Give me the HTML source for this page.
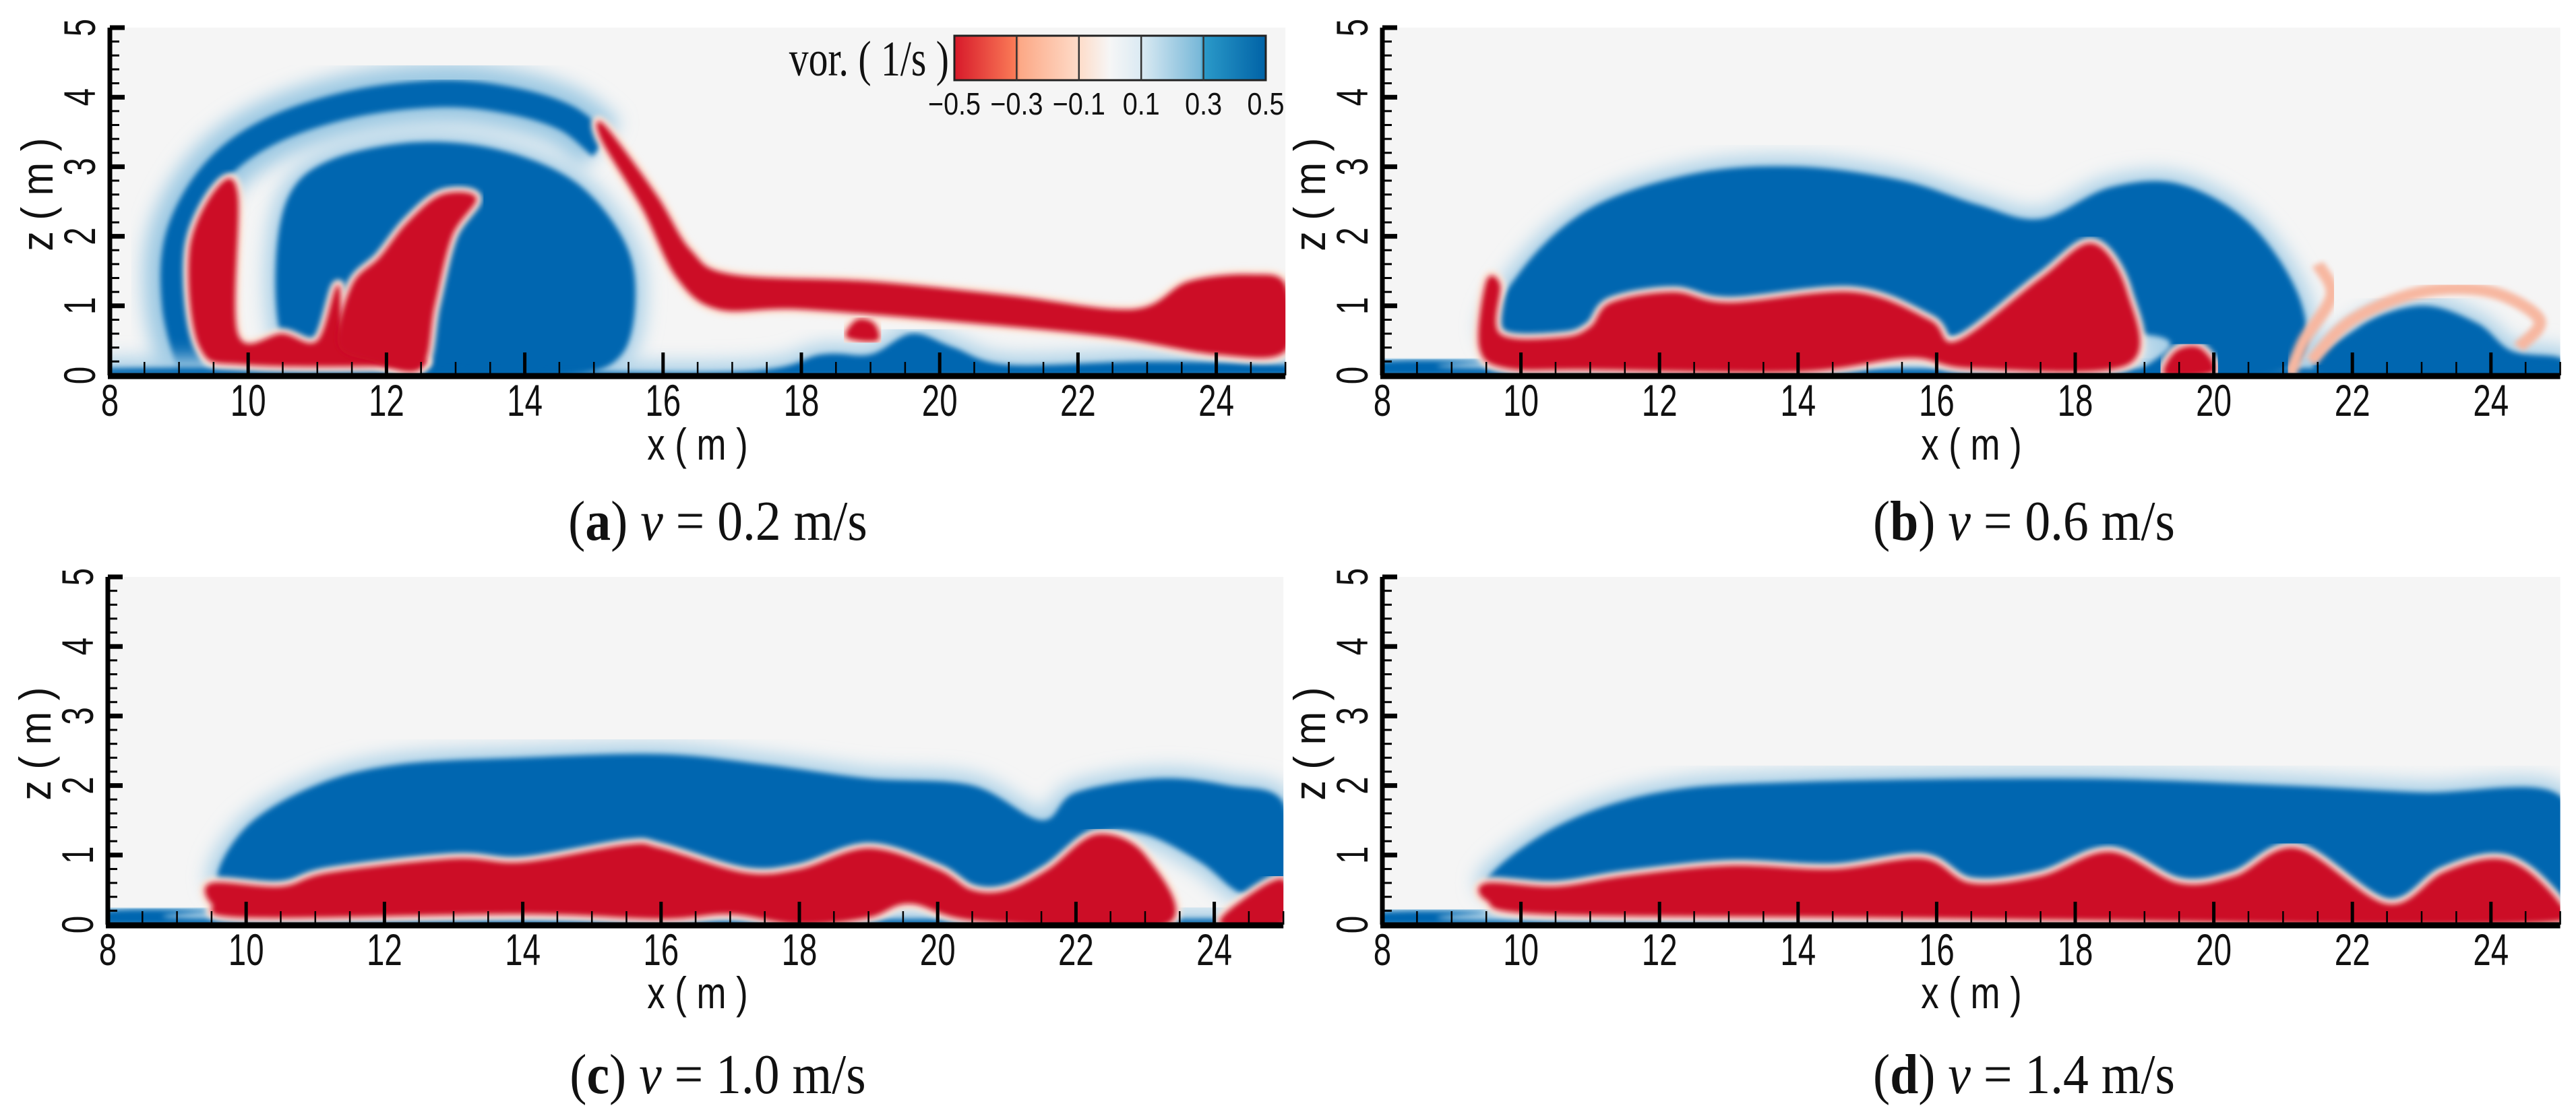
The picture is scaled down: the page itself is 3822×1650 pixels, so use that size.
<!DOCTYPE html>
<html><head><meta charset="utf-8">
<style>
html,body{margin:0;padding:0;background:#fff;}
svg{display:block;}
.tk{font-family:"Liberation Sans",sans-serif;font-size:66px;fill:#111;}
.cap{font-family:"Liberation Serif",serif;font-size:84px;fill:#111;}
</style></head>
<body>
<svg id="fig" width="3822" height="1650" viewBox="0 0 3822 1650" xmlns="http://www.w3.org/2000/svg">
<defs>
<filter id="soft" x="-5%" y="-5%" width="110%" height="110%"><feGaussianBlur stdDeviation="4"/></filter>
<filter id="halo" x="-10%" y="-10%" width="120%" height="120%"><feGaussianBlur stdDeviation="14"/></filter>
<linearGradient id="cb" x1="0" x2="1" y1="0" y2="0">
<stop offset="0" stop-color="#d7192a"/><stop offset="0.2" stop-color="#fb7d58"/>
<stop offset="0.21" stop-color="#fca886"/><stop offset="0.4" stop-color="#fedcc9"/>
<stop offset="0.5" stop-color="#f6f6f6"/><stop offset="0.6" stop-color="#dbeaf3"/>
<stop offset="0.79" stop-color="#78b8d8"/><stop offset="0.8" stop-color="#2b9ac9"/>
<stop offset="1" stop-color="#0062a6"/></linearGradient>
</defs>
</svg>
<script>
// ---- data (x in m, z in m) ----
const xTicks=[8,10,12,14,16,18,20,22,24];
const zTicks=[0,1,2,3,4,5];
const cbTicks=["\u22120.5","\u22120.3","\u22120.1","0.1","0.3","0.5"];
const captionsLetter=["a","b","c","d"];
const captionsSpeed=["0.2","0.6","1.0","1.4"];
// panel a
const aBlueRing=[[9.2,0],[8.95,1.0],[9.0,2.0],[9.5,2.9],[10.3,3.5],[11.5,3.9],[12.8,4.05],[13.8,3.95],[14.6,3.7],[15.1,3.3]];
const aBlue=[[10.5,0.5],[10.4,1.6],[10.6,2.6],[11.2,3.1],[12.4,3.35],[13.6,3.25],[14.7,2.8],[15.4,2.0],[15.6,1.2],[15.4,0.3],[14.6,0],[12.6,0],[11.0,0.2]];
const aBlueGround=[[8,0],[8,0.1],[12,0.1],[17,0.05],[18.3,0.3],[19.0,0.3],[19.6,0.6],[20.2,0.4],[21,0.15],[23,0.2],[25,0.15],[25,0]];
const aRedL=[[9.15,1.8],[9.55,2.7],[9.85,2.6],[9.85,0.6],[10.5,0.6],[11.0,0.5],[11.3,1.3],[11.45,0.5],[12.3,0.3],[12.4,0.15],[10,0.15],[9.3,0.4]];
const aRedDiag=[[11.3,0.45],[11.5,1.3],[11.9,1.7],[12.3,2.2],[12.8,2.6],[13.3,2.55],[12.95,2.0],[12.7,1.0],[12.5,0.1],[11.8,0.2]];
const aRedBand=[[15.15,3.6],[15.9,2.6],[16.4,1.8],[17.0,1.45],[19,1.35],[21,1.15],[22.8,0.95],[23.6,1.35],[24.5,1.45],[25,1.3],[25,0.35],[24,0.3],[22.5,0.55],[20.5,0.75],[18,0.95],[16.8,0.95],[16.2,1.4],[15.7,2.4],[15.1,3.4]];
const aRedDot=[[18.65,0.55],[18.8,0.8],[19.05,0.75],[19.1,0.5]];
// panel b
const bBlue=[[9.6,0.55],[10.0,1.5],[11.0,2.4],[12.5,2.9],[14.0,3.0],[15.5,2.8],[16.6,2.45],[17.5,2.25],[18.5,2.7],[19.5,2.75],[20.5,2.2],[21.2,1.2],[21.3,0.35],[20.7,0],[19.0,0],[18.8,0.6],[11,0.3]];
const bBlueRight=[[21.6,0],[22.1,0.7],[23.0,1.0],[23.8,0.75],[24.3,0.35],[25,0.25],[25,0]];
const bBlueGround=[[8,0],[8,0.2],[9.5,0.2],[10,0.1],[25,0.1],[25,0]];
const bRed=[[9.5,1.35],[9.4,0.4],[9.8,0.1],[11,0.08],[14,0.05],[15.6,0.25],[16.5,0.1],[18.75,0.15],[18.75,1.2],[18.25,1.9],[17.5,1.4],[16.3,0.5],[15.9,0.8],[14.8,1.2],[13,1.05],[12.2,1.2],[11.3,1.05],[11.0,0.7],[10.6,0.55],[9.7,0.6],[9.7,1.3]];
const bRedSmall=[[19.3,0],[19.45,0.35],[19.8,0.4],[20.0,0.05]];
const bRedArc1=[[21.5,1.6],[21.7,1.15],[21.3,0.5],[21.1,0]];
const bRedArc2=[[21.4,0.2],[22.0,0.8],[23.0,1.2],[24.0,1.2],[24.7,0.8],[24.4,0.4]];
// panel c
const cBlue=[[9.6,0.6],[10.0,1.4],[11.0,2.0],[12.2,2.3],[14.0,2.4],[16.0,2.45],[17.5,2.3],[19.0,2.1],[20.5,2.0],[21.5,1.5],[22.0,1.9],[23.2,2.1],[24.2,2.0],[25,1.75],[25,0.5],[24.4,0.45],[23.8,0.9],[23.0,1.3],[22.3,1.3],[21.6,0.8],[21,0.5],[20.5,0.5],[20,0.8],[19,1.1],[18,0.8],[17.2,0.75],[16,1.1],[15.5,1.15],[14,0.9],[13,0.95],[11.2,0.75],[10.5,0.55]];
const cRed=[[9.5,0.6],[10.5,0.55],[11.2,0.75],[13,0.95],[14,0.9],[15.5,1.15],[16,1.1],[17.2,0.75],[18,0.8],[19,1.1],[20,0.8],[20.5,0.5],[21,0.5],[21.6,0.8],[22.3,1.3],[23.0,1.0],[23.3,0.0],[20.6,0.05],[19.6,0.3],[19.0,0.1],[18,0.0],[17,0.15],[16,0.08],[14,0.15],[10,0.1],[9.5,0.3]];
const cRedCorner=[[24.1,0],[24.4,0.35],[25,0.65],[25,0]];
const cBlueGround=[[8,0],[8,0.2],[9.5,0.2],[10,0.08],[25,0.08],[25,0]];
// panel d
const dBlue=[[9.5,0.6],[10.5,1.4],[12,1.9],[14,2.05],[18,2.1],[21,2.0],[23,1.9],[25,1.85],[25,0.3],[24.5,0.8],[24,0.95],[23.3,0.75],[22.5,0.3],[21.2,1.1],[20.3,0.7],[19.5,0.6],[18.5,1.05],[17.5,0.7],[16.5,0.6],[15.8,0.95],[14.5,0.8],[13,0.85],[11.5,0.7],[10.5,0.55]];
const dRed=[[9.5,0.6],[10.5,0.55],[11.5,0.7],[13,0.85],[14.5,0.8],[15.8,0.95],[16.5,0.6],[17.5,0.7],[18.5,1.05],[19.5,0.6],[20.3,0.7],[21.2,1.1],[22.5,0.3],[23.3,0.75],[24,0.95],[24.5,0.8],[25,0.3],[25,0.05],[22.5,0.0],[19,0.05],[15,0.1],[10.3,0.15],[9.5,0.35]];
const dBlueGround=[[8,0],[8,0.18],[9.5,0.18],[10,0.06],[25,0.06],[25,0]];

const panels=[
 {x0:163,y0:557,yTop:41,pxm:102.6,cap:[1065,773],xl:[1035,658],blue:[aBlue,aBlueGround],ring:aBlueRing,red:[aRedL,aRedDiag,aRedBand,aRedDot],arcs:[]},
 {x0:2051,y0:557,yTop:41,pxm:102.8,cap:[3003,773],xl:[2925,658],blue:[bBlue,bBlueRight,bBlueGround],red:[bRed,bRedSmall],arcs:[bRedArc1,bRedArc2]},
 {x0:160,y0:1372,yTop:856,pxm:102.6,cap:[1065,1594],xl:[1035,1472],blue:[cBlue,cBlueGround],red:[cRed,cRedCorner],arcs:[]},
 {x0:2051,y0:1372,yTop:856,pxm:102.8,cap:[3003,1594],xl:[2925,1472],blue:[dBlue,dBlueGround],red:[dRed],arcs:[]}
];
const NS="http://www.w3.org/2000/svg";
const svg=document.getElementById('fig');
function mk(tag,attrs,parent){const e=document.createElementNS(NS,tag);for(const k in attrs)e.setAttribute(k,attrs[k]);(parent||svg).appendChild(e);return e;}
function smooth(pts,sx,sy,closed){
 const P=pts.map(p=>[sx(p[0]),sy(p[1])]);const n=P.length;
 let d="M"+P[0][0]+","+P[0][1];
 const lim=closed?n:n-1;
 for(let i=0;i<lim;i++){
  const p0=P[(i-1+n)%n],p1=P[i],p2=P[(i+1)%n],p3=P[(i+2)%n];
  const a=(!closed&&i==0)?p1:p0, b=(!closed&&i+2>=n)?p2:p3;
  const c1=[p1[0]+(p2[0]-a[0])/6,p1[1]+(p2[1]-a[1])/6],c2=[p2[0]-(b[0]-p1[0])/6,p2[1]-(b[1]-p1[1])/6];
  d+=" C"+c1[0]+","+c1[1]+" "+c2[0]+","+c2[1]+" "+p2[0]+","+p2[1];
 }
 return d+(closed?"Z":"");
}
panels.forEach((P,pi)=>{
 const sx=v=>P.x0+(v-8)*P.pxm, sy=v=>P.y0-v*(P.y0-P.yTop)/5;
 const g=mk('g',{});
 
 
 const cid='clip'+pi;
 const cp=mk('clipPath',{id:cid},g);mk('rect',{x:sx(8),y:sy(5),width:sx(25)-sx(8),height:sy(0)-sy(5)},cp);
 const bg=mk('rect',{x:sx(8),y:sy(5),width:sx(25)-sx(8),height:sy(0)-sy(5),fill:'#f5f5f5'},g);
 
 
 const field=mk('g',{'clip-path':'url(#'+cid+')'},g);
 
 
 if(P.ring){
  mk('path',{d:smooth(P.ring,sx,sy,false),fill:'none',stroke:'#9cc9e3',"stroke-width":90,filter:'url(#halo)'},field);
  const r=mk('path',{d:smooth(P.ring,sx,sy,false),fill:'none',stroke:'#0066b0',"stroke-width":40,filter:'url(#soft)'},field);
  
  
 }
 P.blue.forEach(poly=>{
  mk('path',{d:smooth(poly,sx,sy,true),fill:'#a9d0e7',stroke:'#a9d0e7',"stroke-width":30,filter:'url(#halo)'},field);
 });
 P.blue.forEach(poly=>{
  const e=mk('path',{d:smooth(poly,sx,sy,true),fill:'#0066b0',filter:'url(#soft)'},field);
  
  
 });
 P.arcs.forEach(a=>{
  const e=mk('path',{d:smooth(a,sx,sy,false),fill:'none',stroke:'#f7b7a0',"stroke-width":18,filter:'url(#soft)'},field);
  
  
 });
 P.red.forEach(poly=>{
  mk('path',{d:smooth(poly,sx,sy,true),fill:'#fde3d6',stroke:'#fde3d6',"stroke-width":16,filter:'url(#soft)'},field);
 });
 P.red.forEach(poly=>{
  const e=mk('path',{d:smooth(poly,sx,sy,true),fill:'#cc1126',filter:'url(#soft)'},field);
  
  
 });
 // axes
 const ax=mk('g',{stroke:'#000'},g);
 
 
 for(let v=8;v<=25.001;v+=0.5){const maj=Math.abs(v%2)<1e-6;mk('line',{x1:sx(v),x2:sx(v),y1:sy(0),y2:sy(0)-(maj?34:20),"stroke-width":maj?5:2.5},ax);}
 for(let v=0;v<=5.001;v+=0.2){const maj=Math.abs(v-Math.round(v))<1e-6;mk('line',{x1:sx(8),x2:sx(8)+(maj?22:14),y1:sy(v),y2:sy(v),"stroke-width":maj?7:3},ax);}
 mk('line',{x1:sx(8),x2:sx(8),y1:sy(5),y2:sy(0),"stroke-width":7},ax);
 mk('line',{x1:sx(8)-3,x2:sx(25),y1:sy(0)+1,y2:sy(0)+1,"stroke-width":9},ax);
 xTicks.forEach(v=>{
  const t=mk('text',{class:'tk','text-anchor':'middle',transform:'translate('+sx(v)+','+(sy(0)+60)+') scale(0.72,1)'},g);t.textContent=v;
  
  
 });
 zTicks.forEach(v=>{
  const t=mk('text',{class:'tk','text-anchor':'middle',transform:'translate('+(sx(8)-22)+','+sy(v)+') rotate(-90) scale(0.72,1)'},g);t.textContent=v;
  
  
 });
 const xl=mk('text',{class:'tk','text-anchor':'middle',transform:'translate('+P.xl[0]+','+(P.xl[1]+24)+') scale(0.8,1)'},g);xl.textContent='x ( m )';
 
 
 const zl=mk('text',{class:'tk','text-anchor':'middle',transform:'translate('+(sx(8)-85)+','+(sy(2.6))+') rotate(-90) scale(0.9,1)'},g);zl.textContent='z ( m )';
 
 
 const cap=mk('text',{class:'cap','text-anchor':'middle',transform:'translate('+P.cap[0]+','+(P.cap[1]+28)+') scale(0.9,1)'},g);
 cap.innerHTML='(<tspan font-weight="bold">'+captionsLetter[pi]+'</tspan>) <tspan font-style="italic">v</tspan> = '+captionsSpeed[pi]+' m/s';
 
 
});
// colorbar legend
const lg=mk('g',{});


const cbx0=1416,cbx1=1878,cby0=53,cby1=119;
mk('rect',{x:cbx0,y:cby0,width:cbx1-cbx0,height:cby1-cby0,fill:'url(#cb)',stroke:'#222',"stroke-width":3},lg);
cbTicks.forEach((s,i)=>{
 const x=cbx0+i*(cbx1-cbx0)/(cbTicks.length-1);
 if(i>0&&i<cbTicks.length-1)mk('line',{x1:x,x2:x,y1:cby0,y2:cby1,stroke:'#333',"stroke-width":2.5},lg);
 const t=mk('text',{class:'tk',style:'font-size:46px','text-anchor':'middle',transform:'translate('+x+',170) scale(0.86,1)'},lg);t.textContent=s;
 
 
});
const lt=mk('text',{class:'cap',style:'font-size:74px','text-anchor':'end',transform:'translate(1408,112) scale(0.78,1)'},lg);lt.textContent='vor. ( 1/s )';


</script>
</body></html>
